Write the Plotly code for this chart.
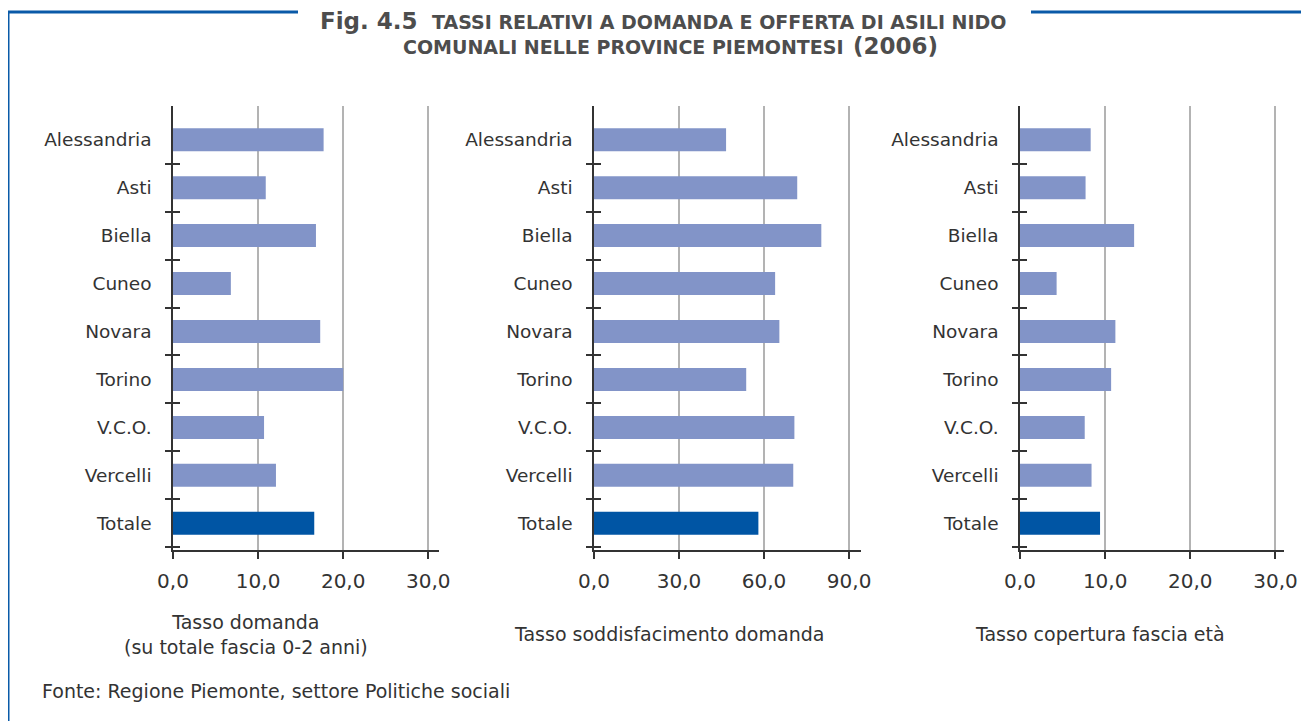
import plotly.graph_objects as go

# dati (Fig. 4.5, Piemonte 2006)
province = ["Alessandria", "Asti", "Biella", "Cuneo", "Novara", "Torino", "V.C.O.", "Vercelli", "Totale"]
tasso_domanda = [17.7, 10.9, 16.8, 6.8, 17.3, 20.0, 10.7, 12.1, 16.6]
tasso_soddisfacimento = [46.6, 71.7, 80.2, 63.9, 65.4, 53.7, 70.7, 70.3, 58.0]
tasso_copertura = [8.3, 7.7, 13.4, 4.3, 11.2, 10.7, 7.6, 8.4, 9.4]
tick_10 = [0, 10, 20, 30]
tick_30 = [0, 30, 60, 90]
titoli_assi = [
    "Tasso domanda<br>(su totale fascia 0-2 anni)",
    "Tasso soddisfacimento domanda",
    "Tasso copertura fascia età",
]

W, H = 1309, 721
OFF = 8  # margine del body nella pagina html
FONT = "DejaVu Sans"
TXT = "#333333"
GRIGIO_T = "#4d4d4d"
BLU = "#0a5aa8"
CHIARO = "#8294c8"
SCURO = "#0055a4"


def fx(p):
    return (p - OFF) / W


def fy(p):
    return 1 - (p - OFF) / H


colori = [SCURO if p == "Totale" else CHIARO for p in province]

# pannelli: valori, tick, range x, dominio in pixel, centro titolo asse
pannelli = [
    dict(v=tasso_domanda, t=tick_10, r=[0, 31.26], d=(173, 439), c=246),
    dict(v=tasso_soddisfacimento, t=tick_30, r=[0, 94.2], d=(594, 861), c=669),
    dict(v=tasso_copertura, t=tick_10, r=[0, 31.0], d=(1020, 1284), c=1100),
]

y_dom = [fy(549.7), fy(106)]
y_range = [len(province) - 0.449, -0.703]
confini = [k + 0.5 for k in range(len(province))]  # tick tra le categorie

fig = go.Figure()
layout = {}
annotations = []

for i, p in enumerate(pannelli):
    n = i + 1
    xa = "x" if n == 1 else f"x{n}"
    ya = "y" if n == 1 else f"y{n}"

    fig.add_trace(go.Bar(
        x=p["v"], y=province, orientation="h",
        marker=dict(color=colori, line=dict(width=0)),
        width=0.48, xaxis=xa, yaxis=ya, showlegend=False,
    ))
    # traccia vuota: serve solo a far disegnare l'asse dei trattini
    fig.add_trace(go.Scatter(
        x=[None], y=[None], mode="markers", xaxis=xa, yaxis=f"y{n + 3}",
        showlegend=False, hoverinfo="skip",
    ))

    layout[f"xaxis{'' if n == 1 else n}"] = dict(
        domain=[fx(p["d"][0]), fx(p["d"][1])],
        anchor=ya, range=p["r"],
        tickvals=p["t"], tickformat=".1f",
        ticks="outside", ticklen=8, tickwidth=1.5, tickcolor=TXT,
        showline=True, linecolor=TXT, linewidth=1.5,
        showgrid=True, gridcolor="#b3b3b3", gridwidth=1.5,
        zeroline=False, automargin=False,
        tickfont=dict(family=FONT, size=20, color=TXT),
        ticklabelstandoff=5,
    )
    layout[f"yaxis{'' if n == 1 else n}"] = dict(
        domain=y_dom, anchor=xa,
        type="category", categoryorder="array", categoryarray=province,
        range=y_range, ticks="",
        showline=True, linecolor=TXT, linewidth=1.5,
        showgrid=False, zeroline=False, automargin=False,
        tickfont=dict(family=FONT, size=18.5, color=TXT),
        ticklabelstandoff=16,
    )
    # asse sovrapposto: trattini che attraversano l'asse tra una categoria e l'altra
    layout[f"yaxis{n + 3}"] = dict(
        domain=y_dom, overlaying=ya, anchor="free", side="left",
        position=fx(p["d"][0] + 7),
        type="linear", range=y_range, tickvals=confini,
        ticks="outside", ticklen=15, tickwidth=1.5, tickcolor=TXT,
        showticklabels=False, showline=False, showgrid=False, zeroline=False,
        automargin=False,
    )

    annotations.append(dict(
        text=titoli_assi[i], x=fx(p["c"]), y=fy(634),
        xref="paper", yref="paper", xanchor="center", yanchor="middle",
        showarrow=False, align="center",
        font=dict(family=FONT, size=19, color=TXT),
    ))

# titolo (parti separate per le diverse dimensioni)
titolo = [
    dict(text="<b>Fig. 4.5</b>", x=318, y=21.5, xanchor="left", size=23),
    dict(text="<b>TASSI RELATIVI A DOMANDA E OFFERTA DI ASILI NIDO</b>", x=1008, y=22.5, xanchor="right", size=19),
    dict(text="<b>COMUNALI NELLE PROVINCE PIEMONTESI</b>", x=846, y=47, xanchor="right", size=19),
    dict(text="<b>(2006)</b>", x=851, y=46, xanchor="left", size=23),
]
for t in titolo:
    annotations.append(dict(
        text=t["text"], x=fx(t["x"]), y=fy(t["y"]), xref="paper", yref="paper",
        xanchor=t["xanchor"], yanchor="middle", showarrow=False,
        font=dict(family=FONT, size=t["size"], color=GRIGIO_T),
    ))

# fonte
annotations.append(dict(
    text="Fonte: Regione Piemonte, settore Politiche sociali",
    x=fx(40), y=fy(691), xref="paper", yref="paper",
    xanchor="left", yanchor="middle", showarrow=False,
    font=dict(family=FONT, size=19, color=TXT),
))

# cornice blu
cornice = dict(type="line", xref="paper", yref="paper", line=dict(color=BLU, width=3))
shapes = [
    dict(cornice, x0=fx(8), y0=fy(12), x1=fx(298), y1=fy(12)),
    dict(cornice, x0=fx(1031), y0=fy(12), x1=1, y1=fy(12)),
    dict(cornice, x0=fx(8), y0=fy(12), x1=fx(8), y1=0),
]

fig.update_layout(
    width=W, height=H,
    margin=dict(l=0, r=0, t=0, b=0, autoexpand=False),
    paper_bgcolor="white", plot_bgcolor="white",
    separators=",.",
    barmode="overlay",
    showlegend=False,
    annotations=annotations,
    shapes=shapes,
    **layout,
)

fig.write_html("out.html")
